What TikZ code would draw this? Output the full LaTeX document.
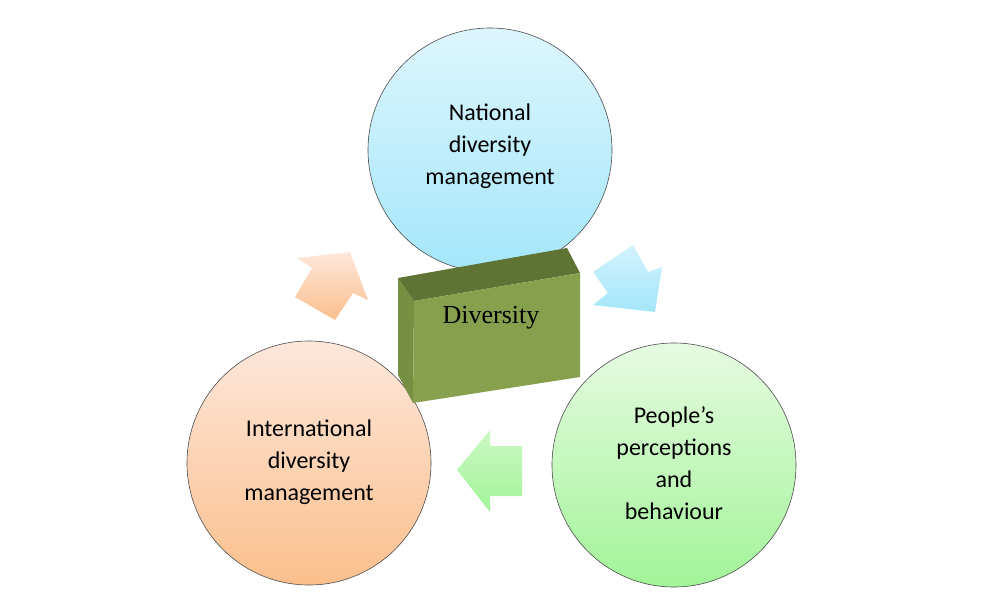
\documentclass[tikz,border=0pt]{standalone}
\usepackage{fontspec}
\setmainfont{Carlito}
\newfontfamily\timesf{Liberation Serif}
\begin{document}
\begin{tikzpicture}[x=1pt,y=-1pt,
 circ/.style={draw=black!70,line width=0.6pt},
 lbl/.style={align=center,font=\fontsize{24}{32}\selectfont,text=black}]
\useasboundingbox (0,0) rectangle (982,607);
\definecolor{bT}{HTML}{DDF6FE}\definecolor{bB}{HTML}{A4E6FA}
\definecolor{gT}{HTML}{E6FBE1}\definecolor{gB}{HTML}{A2F498}
\definecolor{oT}{HTML}{FDE7DB}\definecolor{oB}{HTML}{FBBF8C}
\shade[top color=bT,bottom color=bB,circ] (490,150) circle (122);
\node[circle,minimum size=244pt] (nat) at (490,150) {};
\node[lbl] at (490,146) {National\\diversity\\management};
\shade[top color=gT,bottom color=gB,circ] (674,465) circle (122);
\node[circle,minimum size=244pt] (peo) at (674,465) {};
\node[lbl] at (674,463) {People's\\perceptions\\and\\behaviour};
\shade[top color=oT,bottom color=oB,circ] (309,463) circle (122);
\node[circle,minimum size=244pt] (int) at (309,463) {};
\node[lbl] at (309,462) {International\\diversity\\management};
% box
\fill[fill={rgb,255:red,118;green,143;blue,67}] (398,278)--(414,301)--(413,403)--(398,375)--cycle;
\fill[fill={rgb,255:red,95;green,115;blue,52}] (398,278)--(567,248)--(580,273)--(414,301)--cycle;
\fill[fill={rgb,255:red,134;green,160;blue,78}] (414,301)--(580,273)--(580,377)--(413,403)--cycle;
\node[font=\timesf\fontsize{26}{30}\selectfont] (div) at (491,318) {Diversity};
% arrows
\shade[top color=oT,bottom color=oB] (350,252)--(297,258)--(312,268)--(295,297)--(335,320)--(353,293)--(368,300)--cycle;
\shade[top color=bT!80!bB,bottom color=bB] (593,272)--(633,245)--(648,272)--(662,267)--(655,312)--(593,305)--(608,293)--cycle;
\shade[top color=gT!60!gB,bottom color=gB] (457,470)--(490,430)--(490,446)--(522,446)--(522,496)--(490,496)--(490,512)--cycle;
\end{tikzpicture}
\end{document}
